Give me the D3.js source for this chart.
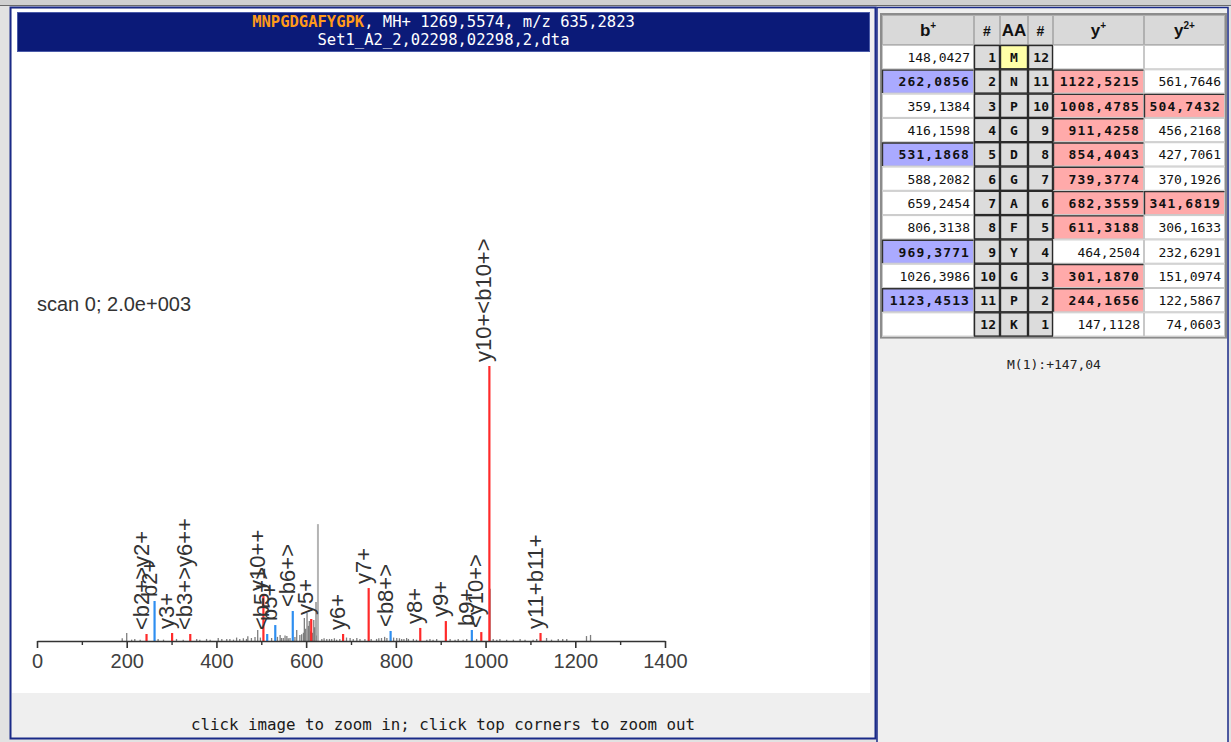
<!DOCTYPE html>
<html><head><meta charset="utf-8">
<script src="https://cdn.jsdelivr.net/npm/d3@7"></script>
<style>
html,body{margin:0;padding:0;background:#e4e4e4;}
svg{display:block}
</style></head><body>
<svg id="c" width="1231" height="742"></svg>
<script>
// ---------- DATA ----------
const peptide = "MNPGDGAFYGPK";
const headerRest = ", MH+ 1269,5574, m/z 635,2823";
const fileName = "Set1_A2_2,02298,02298,2,dta";
const scanText = "scan 0; 2.0e+003";
const footerText = "click image to zoom in; click top corners to zoom out";
const modText = "M(1):+147,04";

const xTicks = [0, 200, 400, 600, 800, 1000, 1200, 1400];
const xMinorTicks = [100, 300, 500, 700, 900, 1100, 1300];

// matched (annotated) peaks
const ionMz    = [244.17, 262.09, 301.19, 341.68, 504.74, 513.18, 531.19, 570.20, 611.32, 682.36, 739.38, 788.30, 854.40, 911.43, 969.38, 990.47, 1008.48, 1122.52];
const ionInt   = [51, 291, 58, 51, 335, 51, 116, 218, 160, 51, 385, 73, 95, 145, 80, 65, 2000, 58];
const ionType  = ["y","b","y","y","y","b","b","b","y","y","y","b","y","y","b","y","y","y"];
const ionLabel = ["<b2+>y2+","b2+","y3+","<b3+>y6++","y10++","<b5+>","b5+","<b6+>","y5+","y6+","y7+","<b8+>","y8+","y9+","b9+","<y10+>","y10+<b10+>","y11+b11+"];

// unmatched peaks
const noiseMz  = [190,200,211,218,230,270,282,311,326,356,363,378,386,404,412,423,430,438,445,452,460,467,470,478,486,492,498,
                  523,536,542,545,549,553,557,560,564,575,579,586,590,594,596,599,602,605,607,610,614,617,619,622,624,626.3,
                  635,640,646,652,657,663,668,675,690,698,705,713,720,731,745,757,762,768,775,780,795,802,808,813,818,824,828,
                  839,846,869,876,883,891,921,932,939,950,958,980,1010,1017,1025,1032,1047,1062,1077,1088,1106,1114,1136,1147,
                  1162,1172,1181,1225,1234];
const noiseInt = [20,58,10,15,10,15,10,15,10,15,10,15,10,22,15,15,15,10,25,15,20,15,35,22,30,80,25,
                  22,30,44,22,22,40,36,20,22,30,80,44,50,60,167,90,204,110,145,70,60,152,100,284,40,850,
                  15,20,15,15,15,20,10,15,25,22,15,22,15,15,15,15,20,22,30,22,25,22,20,15,15,22,15,
                  15,10,10,15,10,15,15,10,15,10,15,15,380,15,10,15,10,10,15,10,10,15,22,10,
                  15,15,15,36,44];

// fragment table
const residues = ["M","N","P","G","D","G","A","F","Y","G","P","K"];
const bIons  = [148.0427,262.0856,359.1384,416.1598,531.1868,588.2082,659.2454,806.3138,969.3771,1026.3986,1123.4513,null];
const yIons  = [null,1122.5215,1008.4785,911.4258,854.4043,739.3774,682.3559,611.3188,464.2504,301.1870,244.1656,147.1128];
const y2Ions = [null,561.7646,504.7432,456.2168,427.7061,370.1926,341.6819,306.1633,232.6291,151.0974,122.5867,74.0603];
const bHit   = [0,1,0,0,1,0,0,0,1,0,1,0];
const yHit   = [0,1,1,1,1,1,1,1,0,1,1,0];
const y2Hit  = [0,0,1,0,0,0,1,0,0,0,0,0];

// ---------- DRAW ----------
const svg = d3.select("#c");
const NAVY = "#0b1a78";
const SANS = "'Liberation Sans', Arial, sans-serif";
const MONO = "'DejaVu Sans Mono', monospace";

svg.append("rect").attr("width",1231).attr("height",742).attr("fill","#e2e2e2");
svg.append("rect").attr("x",0).attr("y",0).attr("width",1231).attr("height",5).attr("fill","#d0d0d0");
svg.append("line").attr("x1",0).attr("x2",1231).attr("y1",5.5).attr("y2",5.5).attr("stroke","#6a6a6a").attr("stroke-width",1);

// left frame
svg.append("rect").attr("x",10.5).attr("y",7.5).attr("width",865).attr("height",731)
  .attr("fill","#efefef").attr("stroke","#1a2a88").attr("stroke-width",2);
svg.append("rect").attr("x",12).attr("y",9).attr("width",858).attr("height",684).attr("fill","#ffffff");
// header bar
svg.append("rect").attr("x",17.5).attr("y",12.5).attr("width",852).attr("height",39)
  .attr("fill",NAVY).attr("stroke","#4a5aa8").attr("stroke-width",1);
const h1 = svg.append("text").attr("x",443.5).attr("y",27).attr("text-anchor","middle")
  .attr("font-family",MONO).attr("font-size","15.5px").attr("fill","#ffffff");
h1.append("tspan").attr("fill","#ff9a1a").attr("font-weight","bold").text(peptide);
h1.append("tspan").text(headerRest);
svg.append("text").attr("x",443.5).attr("y",45).attr("text-anchor","middle")
  .attr("font-family",MONO).attr("font-size","15.5px").attr("fill","#ffffff").text(fileName);

// footer
svg.append("text").attr("x",443).attr("y",730).attr("text-anchor","middle")
  .attr("font-family",MONO).attr("font-size","15.8px").attr("fill","#1a1a1a").text(footerText);

// scales
const x = d3.scaleLinear().domain([0,1400]).range([37,665]);
const y = d3.scaleLinear().domain([0,2000]).range([641,366]);

svg.append("text").attr("x",37).attr("y",311).attr("font-family",SANS).attr("font-size","20px")
  .attr("fill","#333").text(scanText);

// noise peaks
const noise = noiseMz.map((m,i)=>({mz:m,int:noiseInt[i]}));
svg.append("g").selectAll("line").data(noise).join("line")
  .attr("x1",d=>x(d.mz)).attr("x2",d=>x(d.mz))
  .attr("y1",y(0)).attr("y2",d=>y(d.int))
  .attr("stroke",d=>d.int>500?"#b4b4b4":"#7e7e7e")
  .attr("stroke-width",d=>d.int>500?2:1.3);

// ion peaks
const ions = ionMz.map((m,i)=>({mz:m,int:ionInt[i],type:ionType[i],label:ionLabel[i]}));
svg.append("g").selectAll("line").data(ions).join("line")
  .attr("x1",d=>x(d.mz)).attr("x2",d=>x(d.mz))
  .attr("y1",y(0)).attr("y2",d=>y(d.int))
  .attr("stroke",d=>d.type==="b"?"#2e8ef0":"#ff2a2a")
  .attr("stroke-width",2.2);

svg.append("g").selectAll("text").data(ions).join("text")
  .attr("transform",d=>`translate(${x(d.mz)+2},${y(d.int)-4}) rotate(-90)`)
  .attr("font-family",SANS).attr("font-size","22px").attr("fill","#333")
  .text(d=>d.label);

// axis
const axis = svg.append("g").attr("transform",`translate(0,${y(0)})`)
  .call(d3.axisBottom(x).tickValues(xTicks).tickSize(7).tickSizeOuter(0).tickPadding(6).tickFormat(d3.format("d")));
axis.select(".domain").attr("stroke","#333").attr("stroke-width",1.6);
axis.selectAll(".tick line").attr("stroke","#333").attr("stroke-width",1.6);
axis.selectAll(".tick text").attr("font-family",SANS).attr("font-size","20px").attr("fill","#404040");
const minor = svg.append("g").attr("transform",`translate(0,${y(0)})`)
  .call(d3.axisBottom(x).tickValues(xMinorTicks).tickSize(4).tickSizeOuter(0).tickFormat(""));
minor.select(".domain").remove();
minor.selectAll(".tick line").attr("stroke","#333").attr("stroke-width",1.4);

// right panel
svg.append("rect").attr("x",877).attr("y",7.5).attr("width",351).attr("height",736)
  .attr("fill","#efefef").attr("stroke","#1a2a88").attr("stroke-width",1.5);

const colX = [882, 974, 1000, 1028, 1053, 1144, 1225];
const headY = 15, headH = 30, rowH = 24.3;
const tbl = svg.append("g");
tbl.append("rect").attr("x",881).attr("y",14).attr("width",345).attr("height",headH+12*rowH+2)
  .attr("fill","#ffffff").attr("stroke","#8c8c8c").attr("stroke-width",2);

const headers = [["b","+"],["#",""],["AA",""],["#",""],["y","+"],["y","2+"]];
headers.forEach((h,i)=>{
  tbl.append("rect").attr("x",colX[i]+0.5).attr("y",headY+0.5).attr("width",colX[i+1]-colX[i]-1).attr("height",headH-1)
    .attr("fill","#d9d9d9").attr("stroke","#b0b0b0");
  const t = tbl.append("text").attr("x",(colX[i]+colX[i+1])/2).attr("y",headY+21)
    .attr("text-anchor","middle").attr("font-family",SANS).attr("font-weight","bold")
    .attr("font-size",i===1||i===3?"14px":"17px").attr("fill","#111");
  t.append("tspan").text(h[0]);
  if(h[1]) t.append("tspan").attr("dy",-7).attr("font-size","10px").text(h[1]);
});

const fmt = v => v==null ? "" : d3.format(".4f")(v).replace(".",",");
residues.forEach((aa,r)=>{
  const y0 = headY+headH+r*rowH;
  const cells = [
    {v:fmt(bIons[r]), hit:bHit[r], col:"#aaaaff"},
    {v:String(r+1), num:true},
    {v:aa, aa:true},
    {v:String(12-r), num:true},
    {v:fmt(yIons[r]), hit:yHit[r], col:"#ffaaaa"},
    {v:fmt(y2Ions[r]), hit:y2Hit[r], col:"#ffaaaa"}
  ];
  cells.forEach((c,i)=>{
    const cx = colX[i], w = colX[i+1]-colX[i];
    let fill = "#ffffff", stroke = "#c8c8c8";
    if(c.num || c.aa){ fill = "#dcdcdc"; stroke = "#2a2a2a"; }
    if(c.aa && r===0) fill = "#ffffa8";
    if(c.hit) fill = c.col;
    tbl.append("rect").attr("x",cx+0.5).attr("y",y0+0.5).attr("width",w-1).attr("height",rowH-1)
      .attr("fill",fill).attr("stroke",stroke).attr("stroke-width",c.num||c.aa?1.4:1);
    if(c.hit){
      tbl.append("path").attr("d",`M${cx+0.5},${y0+rowH-0.5}V${y0+0.8}H${cx+w-0.5}`)
        .attr("fill","none").attr("stroke","#333").attr("stroke-width",1.4);
    }
    const bold = c.hit || c.num || c.aa;
    const tx = c.aa ? cx+w/2 : cx+w-4;
    tbl.append("text").attr("x",tx).attr("y",y0+rowH/2+5)
      .attr("text-anchor",c.aa?"middle":"end")
      .attr("font-family",MONO).attr("font-size","13px")
      .attr("font-weight",bold?"bold":"normal")
      .attr("letter-spacing",c.hit?"1.1px":"0px")
      .attr("fill","#111").text(c.v);
  });
});

svg.append("text").attr("x",1054).attr("y",369).attr("text-anchor","middle")
  .attr("font-family",MONO).attr("font-size","13px").attr("fill","#222").text(modText);
</script></body></html>
